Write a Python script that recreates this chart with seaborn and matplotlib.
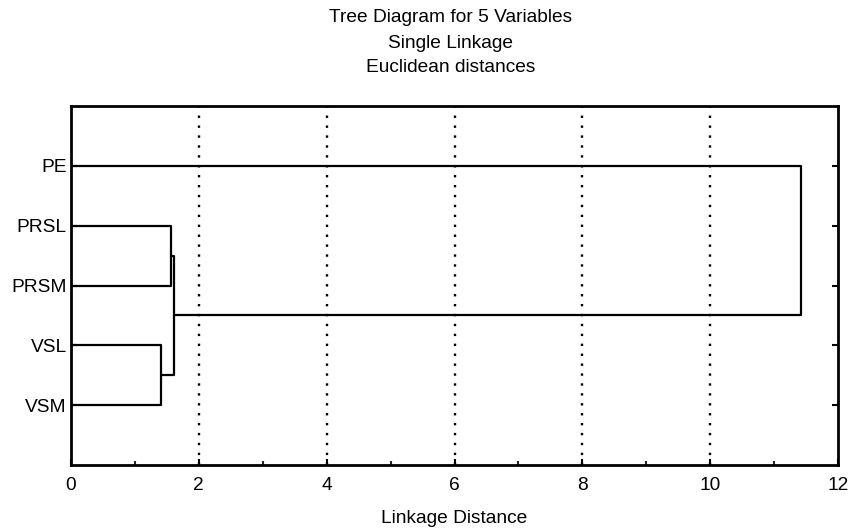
import numpy as np
import pandas as pd
import matplotlib
matplotlib.use("Agg")
import matplotlib.pyplot as plt
import seaborn as sns

# ---- data ----
leaves = ["PE", "PRSL", "PRSM", "VSL", "VSM"]
# merges: (child_a, child_b, distance); children index leaves (0..4) or previous clusters (5..)
merge_a = [3, 1, 6, 0]
merge_b = [4, 2, 5, 7]
merge_dist = [1.41, 1.565, 1.61, 11.42]
x_ticks = [0, 2, 4, 6, 8, 10, 12]
title_lines = ["Tree Diagram for 5 Variables", "Single Linkage", "Euclidean distances"]
x_label = "Linkage Distance"

sns.set_theme(style="white")
plt.rcParams['font.family'] = ['Liberation Sans', 'DejaVu Sans']

FS = 13.8
fig = plt.figure(figsize=(8.52, 5.31), dpi=100)
ax = fig.add_axes([71/852, 1-465/531, (838-71)/852, (465-106)/531])

# node positions
ypos = {i: i + 1.0 for i in range(len(leaves))}
hpos = {i: 0.0 for i in range(len(leaves))}
rows = []
for k, (a, b, d) in enumerate(zip(merge_a, merge_b, merge_dist)):
    node = len(leaves) + k
    xs = [hpos[a], d, d, hpos[b]]
    ys = [ypos[a], ypos[a], ypos[b], ypos[b]]
    for j, (xx, yy) in enumerate(zip(xs, ys)):
        rows.append({"x": xx, "y": yy, "link": k, "order": j})
    ypos[node] = (ypos[a] + ypos[b]) / 2
    hpos[node] = d
df = pd.DataFrame(rows)

for k, g in df.groupby("link"):
    sns.lineplot(data=g, x="x", y="y", sort=False, estimator=None, color="black",
                 linewidth=1.6, ax=ax, legend=False)

ax.set_xlim(0, 12)
ax.set_ylim(6, 0)
ax.set_xticks(x_ticks)
ax.set_xticklabels([str(t) for t in x_ticks], fontsize=FS)
ax.set_xticks([1, 3, 5, 7, 9, 11], minor=True)
ax.set_yticks([ypos[i] for i in range(len(leaves))])
ax.set_yticklabels(leaves, fontsize=FS)

for v in x_ticks[1:-1]:
    ax.axvline(v, color="black", linestyle=(0, (1, 3.2)), linewidth=1.7, zorder=0)

ax.tick_params(axis="x", which="major", direction="in", length=4, width=1.5, pad=9,
               bottom=True, top=False, colors="black")
ax.tick_params(axis="x", which="minor", direction="in", length=3, width=1.5,
               bottom=True, top=False)
ax.tick_params(axis="y", which="major", direction="in", length=4, width=1.5, pad=3,
               left=True, right=True, colors="black")
for s in ax.spines.values():
    s.set_color("black")
    s.set_linewidth(2.0)

ax.set_xlabel(x_label, fontsize=FS, labelpad=11, color="black")
ax.set_ylabel("")

ys_title = [17, 43, 68]
for t, yy in zip(title_lines, ys_title):
    fig.text((71+838)/2/852 - 4/852, 1 - yy/531, t, ha="center", va="center", fontsize=FS, color="black")

fig.savefig("out.png", dpi=100, facecolor="white")
